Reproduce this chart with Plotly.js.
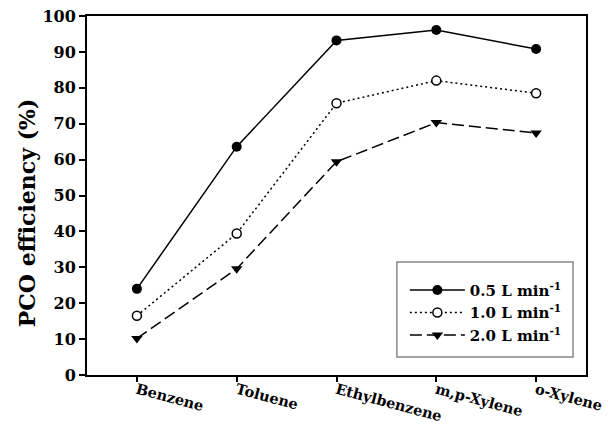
<!DOCTYPE html>
<html><head><meta charset="utf-8">
<script src="https://cdn.plot.ly/plotly-3.0.1.min.js"></script>
<style>body{margin:0;padding:0;background:#fff}#chart{width:608px;height:426px}</style>
</head><body><div id="chart"></div>
<script>
const categories = ["Benzene", "Toluene", "Ethylbenzene", "m,p-Xylene", "o-Xylene"];
const flow05 = [24.0, 63.6, 93.2, 96.1, 90.8];
const flow10 = [16.5, 39.4, 75.7, 82.0, 78.5];
const flow20 = [10.2, 29.6, 59.4, 70.3, 67.4];
const seriesNames = ["0.5 L min<sup>-1</sup>", "1.0 L min<sup>-1</sup>", "2.0 L min<sup>-1</sup>"];
const yTicks = [0, 10, 20, 30, 40, 50, 60, 70, 80, 90, 100];
const yTitle = "PCO efficiency (%)";

const font = {family: "DejaVu Serif, Liberation Serif, serif", color: "#000", weight: "bold"};
const f = s => Object.assign({size: s}, font);
const traces = [
  {x: categories, y: flow05, name: seriesNames[0], mode: "lines+markers",
   line: {color: "#000", width: 1.5, dash: "solid"},
   marker: {symbol: "circle", size: 10, color: "#000"}},
  {x: categories, y: flow10, name: seriesNames[1], mode: "lines+markers",
   line: {color: "#000", width: 1.5, dash: "2px,3px"},
   marker: {symbol: "circle", size: 9, color: "#fff", line: {width: 1.5, color: "#000"}}},
  {x: categories, y: flow20, name: seriesNames[2], mode: "lines+markers",
   line: {color: "#000", width: 1.5, dash: "12px,5px"},
   marker: {symbol: "triangle-down", size: 10, color: "#000"}}
];
const layout = {
  width: 608, height: 426,
  margin: {l: 87, r: 22, t: 16, b: 51},
  paper_bgcolor: "#fff", plot_bgcolor: "#fff",
  showlegend: true,
  font: f(15),
  xaxis: {
    type: "category", range: [-0.5, 4.5],
    showline: true, linewidth: 2, linecolor: "#000", mirror: true,
    ticks: "outside", ticklen: 5, tickwidth: 2, tickcolor: "#000",
    tickangle: 15, showgrid: false, zeroline: false,
    ticklabelstandoff: -6,
    tickfont: f(14.5)
  },
  yaxis: {
    range: [0, 100], tickvals: yTicks,
    showline: true, linewidth: 2, linecolor: "#000", mirror: true,
    ticks: "outside", ticklen: 6, tickwidth: 2, tickcolor: "#000",
    showgrid: false, zeroline: false,
    tickfont: f(16)
  },
  annotations: [{
    text: yTitle, xref: "paper", yref: "paper", x: -0.12, y: 0.451,
    xanchor: "center", yanchor: "middle", textangle: -90, showarrow: false,
    font: f(22)
  }],
  shapes: [{
    type: "rect", xref: "paper", yref: "paper",
    x0: 0.621, x1: 0.974, y0: 0.05, y1: 0.315,
    line: {color: "#888", width: 1.5}, fillcolor: "#fff", layer: "below"
  }],
  legend: {
    x: 0.637, y: 0.282, xanchor: "left", yanchor: "top",
    bgcolor: "rgba(0,0,0,0)", borderwidth: 0,
    font: f(15),
    tracegroupgap: 0, itemwidth: 55
  }
};
Plotly.newPlot("chart", traces, layout, {displayModeBar: false, staticPlot: true});
</script></body></html>
